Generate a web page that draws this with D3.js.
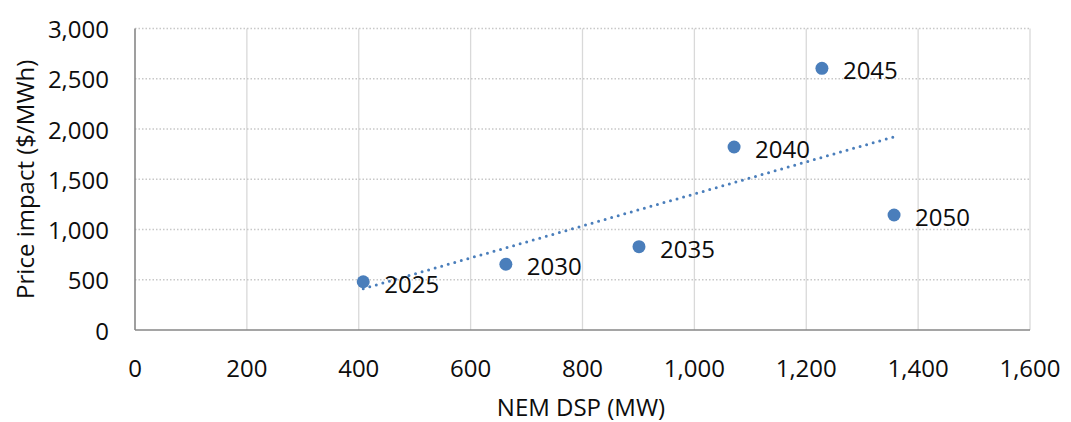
<!DOCTYPE html>
<html>
<head>
<meta charset="utf-8">
<script src="https://cdn.jsdelivr.net/npm/d3@7"></script>
<style>
  html, body { margin: 0; padding: 0; background: #fff; }
  svg text { font-family: "Open Sans", "Noto Sans", sans-serif; fill: #0d0d0d; }
</style>
</head>
<body>
<svg id="chart" width="1071" height="422"></svg>
<script>
// NEM demand-side participation vs. price impact, by year
const years = ["2025", "2030", "2035", "2040", "2045", "2050"];
const dspMW = [408, 663, 901, 1071, 1228, 1357];
const priceImpact = [480, 654, 829, 1821, 2604, 1144];
const xTicks = [0, 200, 400, 600, 800, 1000, 1200, 1400, 1600];
const yTicks = [0, 500, 1000, 1500, 2000, 2500, 3000];

const svg = d3.select("#chart");
const margin = { left: 135, right: 41, top: 28.5, bottom: 92 };
const W = 1071, H = 422;

const x = d3.scaleLinear().domain([0, 1600]).range([margin.left, W - margin.right]);
const y = d3.scaleLinear().domain([0, 3000]).range([H - margin.bottom, margin.top]);
const fmt = d3.format(",");

// vertical gridlines (solid)
svg.append("g")
  .selectAll("line").data(xTicks.filter(d => d > 0)).join("line")
  .attr("x1", d => x(d)).attr("x2", d => x(d))
  .attr("y1", y(0)).attr("y2", y(3000))
  .attr("stroke", "#d9d9d9").attr("stroke-width", 1.3);

// horizontal gridlines (dotted)
svg.append("g")
  .selectAll("line").data(yTicks.filter(d => d > 0)).join("line")
  .attr("x1", x(0)).attr("x2", x(1600))
  .attr("y1", d => y(d)).attr("y2", d => y(d))
  .attr("stroke", "#c8c8c8").attr("stroke-width", 1.3)
  .attr("stroke-dasharray", "1.5,2");

// axis lines
const axisColor = "#878787";
svg.append("line")
  .attr("x1", x(0)).attr("x2", x(0)).attr("y1", y(0)).attr("y2", y(3000))
  .attr("stroke", axisColor).attr("stroke-width", 1.6);
svg.append("line")
  .attr("x1", x(0)).attr("x2", x(1600)).attr("y1", y(0)).attr("y2", y(0))
  .attr("stroke", axisColor).attr("stroke-width", 1.6);

// tick labels
svg.append("g")
  .selectAll("text").data(yTicks).join("text")
  .attr("x", x(0) - 26).attr("y", d => y(d))
  .attr("text-anchor", "end").attr("dominant-baseline", "central")
  .style("font-size", "24px")
  .text(d => fmt(d));
svg.append("g")
  .selectAll("text").data(xTicks).join("text")
  .attr("x", d => x(d)).attr("y", y(0) + 37)
  .attr("text-anchor", "middle").attr("dominant-baseline", "central")
  .style("font-size", "24px")
  .text(d => fmt(d));

// axis titles
svg.append("text")
  .attr("x", 581).attr("y", 406)
  .attr("text-anchor", "middle").attr("dominant-baseline", "central")
  .style("font-size", "24px")
  .text("NEM DSP (MW)");
svg.append("text")
  .attr("transform", `translate(24,${(y(0) + y(3000)) / 2}) rotate(-90)`)
  .attr("text-anchor", "middle").attr("dominant-baseline", "central")
  .style("font-size", "24px")
  .text("Price impact ($/MWh)");

// linear trendline (least squares) across the data range
const n = dspMW.length;
const mx = d3.mean(dspMW), my = d3.mean(priceImpact);
let sxy = 0, sxx = 0;
for (let i = 0; i < n; i++) {
  sxy += (dspMW[i] - mx) * (priceImpact[i] - my);
  sxx += (dspMW[i] - mx) ** 2;
}
const slope = sxy / sxx, intercept = my - slope * mx;
const xMin = d3.min(dspMW), xMax = d3.max(dspMW);
svg.append("line")
  .attr("x1", x(xMin)).attr("y1", y(intercept + slope * xMin))
  .attr("x2", x(xMax)).attr("y2", y(intercept + slope * xMax))
  .attr("stroke", "#4a7ebb").attr("stroke-width", 3)
  .attr("stroke-linecap", "round").attr("stroke-dasharray", "0,6.8");

// points
const pts = years.map((yr, i) => ({ yr, dx: dspMW[i], py: priceImpact[i] }));
svg.append("g")
  .selectAll("circle").data(pts).join("circle")
  .attr("cx", d => x(d.dx)).attr("cy", d => y(d.py)).attr("r", 6.5)
  .attr("fill", "#4a7ebb");

// year labels to the right of each point
svg.append("g")
  .selectAll("text").data(pts).join("text")
  .attr("x", d => x(d.dx) + 21).attr("y", d => y(d.py) + 1.5)
  .attr("dominant-baseline", "central")
  .style("font-size", "24px")
  .text(d => d.yr);
</script>
</body>
</html>
